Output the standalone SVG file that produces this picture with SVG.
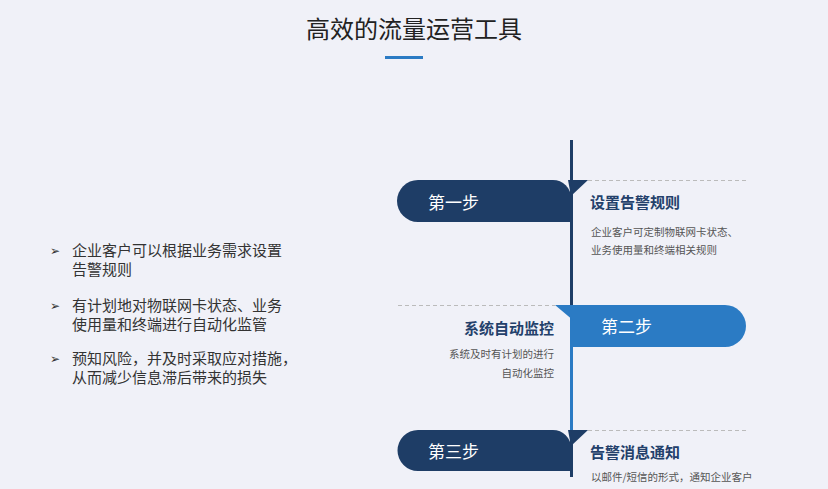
<svg xmlns="http://www.w3.org/2000/svg" width="828" height="489" viewBox="0 0 828 489">
<style>
text{font-family:"Noto Sans CJK SC","Noto Sans",sans-serif}
.b{font-size:15px;fill:#333}
.st{font-size:17px;fill:#fff}
.h{font-size:15px;font-weight:bold;fill:#23406b}
.d{font-size:10.5px;fill:#555}
.dash{stroke:#bbb;stroke-width:1;stroke-dasharray:4 3}
</style>
<rect width="828" height="489" fill="#f0f1f8"/>
<text x="414" y="38" text-anchor="middle" font-size="24" fill="#222">高效的流量运营工具</text>
<rect x="385" y="56" width="38" height="3" fill="#2b7bc4"/>
<g id="bullets">
<text x="50" y="255" font-size="12" fill="#333">➢</text>
<text x="72" y="256" class="b">企业客户可以根据业务需求设置</text>
<text x="72" y="275" class="b">告警规则</text>
<text x="50" y="310" font-size="12" fill="#333">➢</text>
<text x="72" y="311" class="b">有计划地对物联网卡状态、业务</text>
<text x="72" y="330" class="b">使用量和终端进行自动化监管</text>
<text x="50" y="363" font-size="12" fill="#333">➢</text>
<text x="72" y="364" class="b">预知风险，并及时采取应对措施，</text>
<text x="72" y="383" class="b">从而减少信息滞后带来的损失</text>
</g>
<g id="connectors">
<line x1="571.5" y1="140" x2="571.5" y2="305" stroke="#1e3d66" stroke-width="3"/>
<line x1="571.5" y1="305" x2="571.5" y2="430" stroke="#2b7bc4" stroke-width="3"/>
<line x1="571.5" y1="430" x2="571.5" y2="477" stroke="#1e3d66" stroke-width="3"/>
<line x1="588" y1="180.5" x2="746" y2="180.5" class="dash"/>
<line x1="398" y1="305.5" x2="555" y2="305.5" class="dash"/>
<line x1="588" y1="430.5" x2="746" y2="430.5" class="dash"/>
</g>
<g id="step1">
<path d="M418 180 H553 A18 18 0 0 1 571 198 V222 H418 A21 21 0 0 1 418 180 Z" fill="#1e3d66"/>
<path d="M568 180 H588 L571 196 Z" fill="#1e3d66"/>
<text x="428" y="209" class="st">第一步</text>
<text x="590" y="208" class="h">设置告警规则</text>
<text x="591" y="236" class="d">企业客户可定制物联网卡状态、</text>
<text x="591" y="254" class="d">业务使用量和终端相关规则</text>
</g>
<g id="step2">
<path d="M571 305 H725 A21 21 0 0 1 725 347 H571 Z" fill="#2b7bc4"/>
<path d="M555 305 H574 V321 Z" fill="#2b7bc4"/>
<text x="601" y="333" class="st">第二步</text>
<text x="554" y="334" class="h" text-anchor="end">系统自动监控</text>
<text x="554" y="358" class="d" text-anchor="end">系统及时有计划的进行</text>
<text x="554" y="377" class="d" text-anchor="end">自动化监控</text>
</g>
<g id="step3">
<path d="M418 430 H553 A18 18 0 0 1 571 448 V471 H418 A20.5 20.5 0 0 1 418 430 Z" fill="#1e3d66"/>
<path d="M568 430 H588 L571 446 Z" fill="#1e3d66"/>
<text x="428" y="458" class="st">第三步</text>
<text x="590" y="458" class="h">告警消息通知</text>
<text x="591" y="481" class="d">以邮件/短信的形式，通知企业客户</text>
</g>
</svg>
